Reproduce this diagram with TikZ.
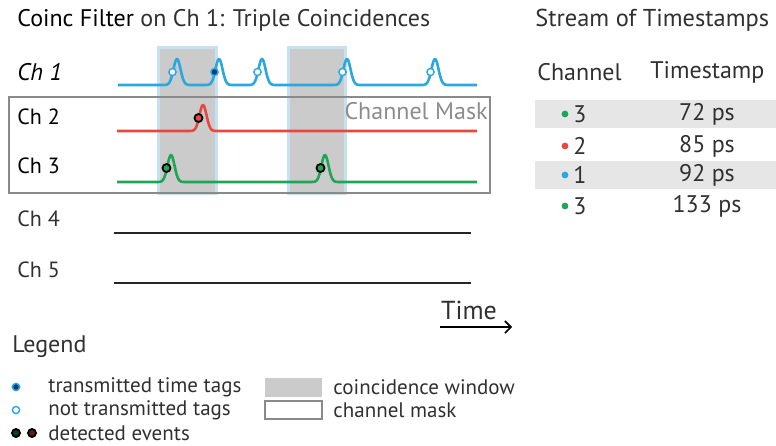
\documentclass[tikz,border=0pt]{standalone}
\usepackage{fontspec}
\setmainfont{PT Sans}
\usetikzlibrary{arrows.meta,positioning}
\definecolor{chblue}{HTML}{2AA7DD}
\definecolor{chred}{HTML}{E8473F}
\definecolor{chgreen}{HTML}{1EA555}
\definecolor{tagnavy}{HTML}{0B3C7A}
\definecolor{winblue}{HTML}{C4E2F1}
\definecolor{wingray}{HTML}{CBCBCB}
\definecolor{rowgray}{HTML}{E6E6E6}
\definecolor{txtgray}{HTML}{303030}
\definecolor{maskgray}{HTML}{8A8A8A}
% gaussian bump for the pulse traces
\newcommand{\bump}[1]{exp(-((\x-#1)/5)^2)}

\begin{document}
\begin{tikzpicture}[x=0.5pt, y=-0.5pt, >=Stealth,
  font=\fontsize{11}{13}\selectfont, text=txtgray,
  trace/.style={line width=1.3pt, line join=round},
  flat/.style={line width=1.3pt, black!85},
  window/.style={fill=wingray, draw=winblue, line width=1.5pt},
  chlabel/.style={anchor=west, inner sep=0pt, text=black},
  head/.style={anchor=west, inner sep=0pt, font=\fontsize{12}{14}\selectfont},
  tagopen/.style={circle, inner sep=0pt, minimum size=3.6pt, line width=0.7pt, draw=chblue, fill=white},
  tagsent/.style={circle, inner sep=0pt, minimum size=3.6pt, line width=0.7pt, draw=chblue, fill=tagnavy},
  hit/.style={circle, inner sep=0pt, minimum size=4pt, line width=0.9pt, draw=black, fill=#1},
  rowdot/.style={circle, inner sep=0pt, minimum size=3.4pt, fill=#1},
  item/.style={anchor=west, inner sep=0pt, font=\fontsize{10.5}{12}\selectfont}]
\useasboundingbox (0,0) rectangle (776,445);

% title
\node[head] (title) at (17,20) {\textcolor{black}{Coinc Filter} on Ch 1: Triple Coincidences};

% coincidence windows
\draw[window] (158,47) rectangle (216,193);
\draw[window] (288,47) rectangle (345,193);

% channel mask
\draw[maskgray, line width=1pt] (9,97) rectangle (490,193);
\node[anchor=east, inner sep=0pt, text=black!45, font=\fontsize{12}{14}\selectfont] (mask) at (488,111) {Channel Mask};

% channel labels
\node[chlabel, font=\fontsize{12}{14}\itshape] (ch1) at (17,72) {Ch 1};
\node[chlabel] (ch2) at (17,117) {Ch 2};
\node[chlabel] (ch3) at (17,166) {Ch 3};
\node[chlabel, text=txtgray] (ch4) at (17,219) {Ch 4};
\node[chlabel, text=txtgray] (ch5) at (17,270) {Ch 5};

% traces
\draw[trace, chblue] plot[domain=118:477, samples=500]
  (\x, {85-26*(\bump{177}+\bump{219}+\bump{262}+\bump{347}+\bump{435})});
\draw[trace, chred] plot[domain=117:477, samples=500]
  (\x, {131-26*\bump{203}});
\draw[trace, chgreen] plot[domain=117:477, samples=500]
  (\x, {182-27*(\bump{171}+\bump{325})});
\draw[flat] (114,233) -- (471,233);
\draw[flat] (114,283) -- (471,283);

% time tags and events
\node[tagopen] (t1) at (172.5,72) {};
\node[tagsent] (t2) at (214.5,72) {};
\node[tagopen] (t3) at (257.5,72) {};
\node[tagopen] (t4) at (342.5,72) {};
\node[tagopen] (t5) at (430.5,72) {};
\node[hit=chred] (e2) at (198.5,118) {};
\node[hit=chgreen] (e3a) at (166.5,168) {};
\node[hit=chgreen] (e3b) at (320.5,168) {};

% time axis
\node[inner sep=0pt, font=\fontsize{13}{15}\selectfont] (time) at (469,310) {Time};
\coordinate (t0) at (440,327);
\coordinate (t9) at (512,327);
\draw[line width=0.8pt, -{Straight Barb[length=3pt,width=6pt]}] (t0) -- (t9);

% legend
\node[head] (legend) at (12,347) {Legend};
\node[tagsent] (lg1) at (16,387) {};
\node[item] (lt1) at (48,387) {transmitted time tags};
\node[tagopen] (lg2) at (16,410) {};
\node[item] (lt2) at (48,410) {not transmitted tags};
\node[hit=chgreen!40!black] (lg3) at (16,433) {};
\node[hit=chred!40!black] (lg4) at (32,433) {};
\node[item] (lt3) at (48,433) {detected events};
\fill[wingray] (265,378) rectangle (322,397);
\node[item] (lt4) at (333,387) {coincidence window};
\draw[maskgray, line width=0.8pt] (265,401) rectangle (322,419);
\node[item] (lt5) at (333,410) {channel mask};

% stream of timestamps
\node[head, font=\fontsize{12.2}{14}\selectfont] (stream) at (535,20) {Stream of Timestamps};
\node[head] (hch) at (537,72) {Channel};
\node[head] (hts) at (650,72) {Timestamp};
\fill[rowgray] (535,100) rectangle (776,128);
\fill[rowgray] (535,161) rectangle (776,189);
\foreach \y/\c/\n/\t in {114/chgreen/3/72, 146/chred/2/85, 175/chblue/1/92, 206/chgreen/3/133} {
  \node[rowdot=\c] (d\t) at (565,\y) {};
  \node[anchor=west, inner sep=0pt, font=\fontsize{12}{14}\selectfont] (n\t) at (573,\y) {\n};
  \node[inner sep=0pt, font=\fontsize{12}{14}\selectfont] (s\t) at (707,\y) {\t\ ps};
}
\end{tikzpicture}
\end{document}
